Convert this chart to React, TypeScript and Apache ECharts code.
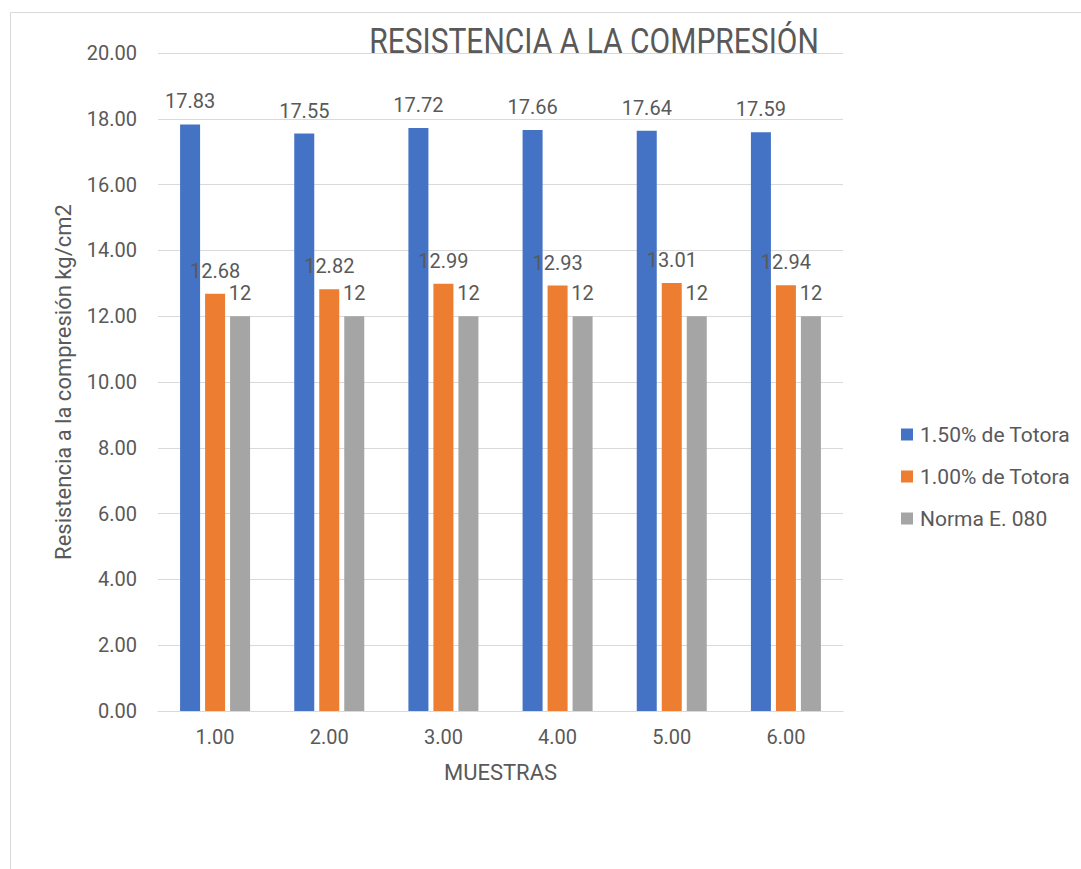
import React, { useEffect, useRef } from "react";
import * as echarts from "echarts";

const categories = ["1.00", "2.00", "3.00", "4.00", "5.00", "6.00"];
const totora150 = [17.83, 17.55, 17.72, 17.66, 17.64, 17.59];
const totora100 = [12.68, 12.82, 12.99, 12.93, 13.01, 12.94];
const norma = [12, 12, 12, 12, 12, 12];
const seriesNames = ["1.50% de Totora", "1.00% de Totora", "Norma E. 080"];
const colors = ["#4472C4", "#ED7D31", "#A5A5A5"];

const FONT = "Roboto";
const TXT = "#595959";

export default function App() {
  const ref = useRef<HTMLDivElement>(null);
  useEffect(() => {
    if (!ref.current) return;
    const chart = echarts.init(ref.current, undefined, { renderer: "svg" });
    const label = (fmt: (v: number) => string) => ({
      show: true,
      position: "top",
      distance: 13,
      color: TXT,
      fontFamily: FONT,
      fontSize: 20,
      formatter: (p: any) => fmt(p.value),
    });
    const datasets = [totora150, totora100, norma];
    const fmts = [(v: number) => v.toFixed(2), (v: number) => v.toFixed(2), (v: number) => String(v)];
    chart.setOption({
      animation: false,
      textStyle: { fontFamily: FONT },
      graphic: [
        {
          type: "rect",
          shape: { x: 10.5, y: 12.5, width: 1200, height: 1000 },
          style: { fill: "none", stroke: "#d9d9d9", lineWidth: 1 },
          silent: true,
        },
        {
          type: "text",
          x: 594,
          y: 41,
          scaleY: 1.17,
          style: {
            text: "RESISTENCIA A LA COMPRESIÓN",
            fontFamily: FONT,
            fontSize: 30,
            fill: TXT,
            align: "center",
            verticalAlign: "middle",
          },
          silent: true,
        },
      ],
      legend: {
        orient: "vertical",
        left: 901,
        top: 424,
        padding: 0,
        itemWidth: 12,
        itemHeight: 12,
        itemGap: 21,
        icon: "rect",
        data: seriesNames,
        textStyle: { color: TXT, fontFamily: FONT, fontSize: 21, lineHeight: 21, padding: [0, 0, 0, 2] },
      },
      grid: { left: 158, right: 238, top: 53, bottom: 158, containLabel: false },
      xAxis: {
        type: "category",
        data: categories,
        name: "MUESTRAS",
        nameLocation: "middle",
        nameGap: 50,
        nameTextStyle: { color: TXT, fontFamily: FONT, fontSize: 22 },
        axisLine: { lineStyle: { color: "#d9d9d9", width: 1 } },
        axisTick: { show: false },
        axisLabel: { color: TXT, fontFamily: FONT, fontSize: 20, margin: 16 },
      },
      yAxis: {
        type: "value",
        min: 0,
        max: 20,
        interval: 2,
        name: "Resistencia a la compresión kg/cm2",
        nameLocation: "middle",
        nameGap: 84,
        nameTextStyle: { color: TXT, fontFamily: FONT, fontSize: 22 },
        axisLine: { show: false },
        axisTick: { show: false },
        splitLine: { lineStyle: { color: "#d9d9d9", width: 1 } },
        axisLabel: { color: TXT, fontFamily: FONT, fontSize: 20, margin: 21, formatter: (v: number) => v.toFixed(2) },
      },
      series: datasets.map((d, i) => ({
        type: "bar",
        name: seriesNames[i],
        data: d,
        barWidth: 20,
        barGap: "25%",
        itemStyle: { color: colors[i] },
        label: label(fmts[i]),
      })),
    });
    return () => chart.dispose();
  }, []);
  return (
    <div
      ref={ref}
      style={{ position: "absolute", left: 0, top: 0, width: 1081, height: 869, background: "#fff" }}
    />
  );
}
